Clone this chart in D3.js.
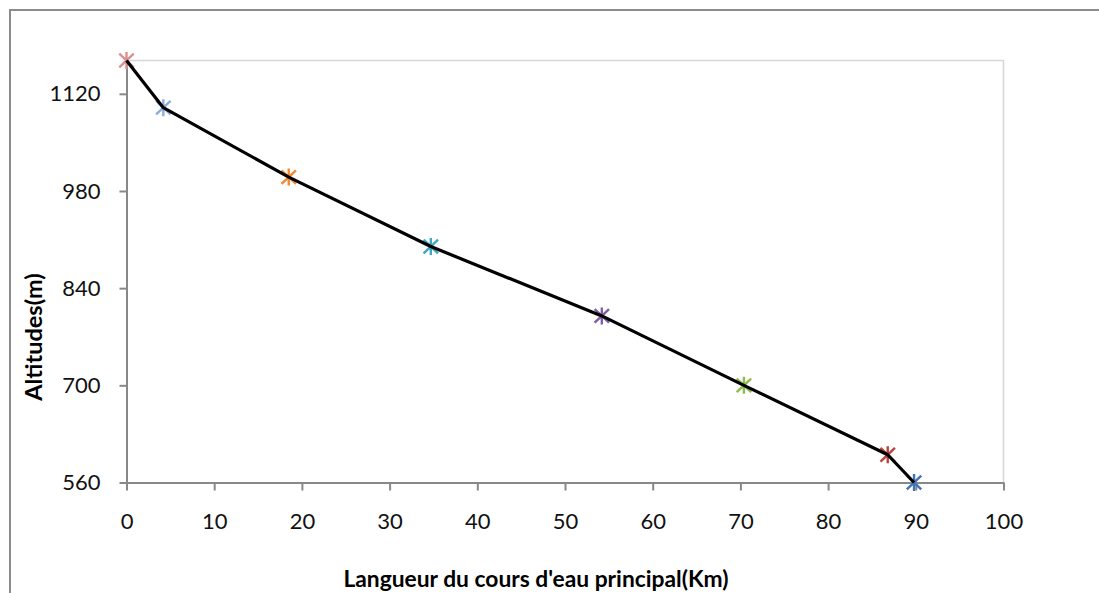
<!DOCTYPE html>
<html>
<head>
<meta charset="utf-8">
<script src="https://cdn.jsdelivr.net/npm/d3@7"></script>
<style>
  html, body { margin: 0; padding: 0; background: #fff; overflow: hidden; }
  svg { display: block; font-family: Lato, "Open Sans", sans-serif; }
</style>
</head>
<body>
<svg id="chart" width="1099" height="593"></svg>
<script>
// distance along the main river (km) and altitude (m)
const distances = [0, 4.2, 18.5, 34.7, 54.2, 70.4, 86.8, 89.8];
const altitudes = [1168, 1100, 1000, 900, 800, 700, 600, 560];
const markerColors = ["#dc8f8f", "#8eabda", "#f08a36", "#3fa8c4", "#7d5fa3", "#8fbb4c", "#b9433f", "#3f72b8"];
const xTicks = [0, 10, 20, 30, 40, 50, 60, 70, 80, 90, 100];
const yTicks = [560, 700, 840, 980, 1120];

const svg = d3.select("#chart");
const margin = { left: 126.5, right: 1003.5, top: 60.5, bottom: 482.5 };

// outer frame of the chart object (runs off the right and bottom of the shot)
svg.append("rect")
  .attr("x", 10).attr("y", 10)
  .attr("width", 1200).attr("height", 700)
  .attr("fill", "none")
  .attr("stroke", "#8c8c8c")
  .attr("stroke-width", 2);

const x = d3.scaleLinear().domain([0, 100]).range([margin.left, margin.right]);
const y = d3.scaleLinear().domain([560, 1168]).range([margin.bottom, margin.top]);

// light frame on top and right of plot area
svg.append("path")
  .attr("d", `M${margin.left},${margin.top}H${margin.right}V${margin.bottom}`)
  .attr("fill", "none")
  .attr("stroke", "#d6d6d6")
  .attr("stroke-width", 1.5);

const yAxis = svg.append("g")
  .attr("transform", `translate(${margin.left},0)`)
  .call(d3.axisLeft(y).tickValues(yTicks).tickFormat(d3.format("d"))
    .tickSize(7).tickPadding(19).tickSizeOuter(0));

const xAxis = svg.append("g")
  .attr("transform", `translate(0,${margin.bottom})`)
  .call(d3.axisBottom(x).tickValues(xTicks).tickSize(8).tickPadding(23).tickSizeOuter(0));

[xAxis, yAxis].forEach(g => {
  g.select(".domain").attr("stroke", "#888").attr("stroke-width", 2);
  g.selectAll(".tick line").attr("stroke", "#888").attr("stroke-width", 2);
  g.selectAll(".tick text")
    .attr("fill", "#111")
    .style("font-size", "22px")
    .style("font-family", "Lato, sans-serif");
});

const points = distances.map((d, i) => ({ d, a: altitudes[i], c: markerColors[i] }));

// star markers (x plus vertical stroke), drawn under the line
const r = 8.5;
const markers = svg.append("g").selectAll("g")
  .data(points)
  .join("g")
  .attr("transform", p => `translate(${x(p.d)},${y(p.a)})`)
  .attr("stroke", p => p.c)
  .attr("stroke-width", 2.4)
  .attr("fill", "none");
markers.append("path")
  .attr("d", `M${-r * 0.85},${-r * 0.8}L${r * 0.85},${r * 0.8}M${-r * 0.85},${r * 0.8}L${r * 0.85},${-r * 0.8}M0,${-r}V${r}`);

const line = d3.line()
  .x(p => x(p.d))
  .y(p => y(p.a));

svg.append("path")
  .datum(points)
  .attr("d", line)
  .attr("fill", "none")
  .attr("stroke", "#000")
  .attr("stroke-width", 3.2)
  .attr("stroke-linejoin", "round");

svg.append("text")
  .attr("x", 536)
  .attr("y", 587)
  .attr("text-anchor", "middle")
  .style("font-size", "22.8px")
  .style("font-weight", "bold")
  .text("Langueur du cours d'eau principal(Km)");

svg.append("text")
  .attr("transform", "translate(42,337) rotate(-90)")
  .attr("text-anchor", "middle")
  .style("font-size", "23.5px")
  .style("font-weight", "bold")
  .text("Altitudes(m)");
</script>
</body>
</html>
